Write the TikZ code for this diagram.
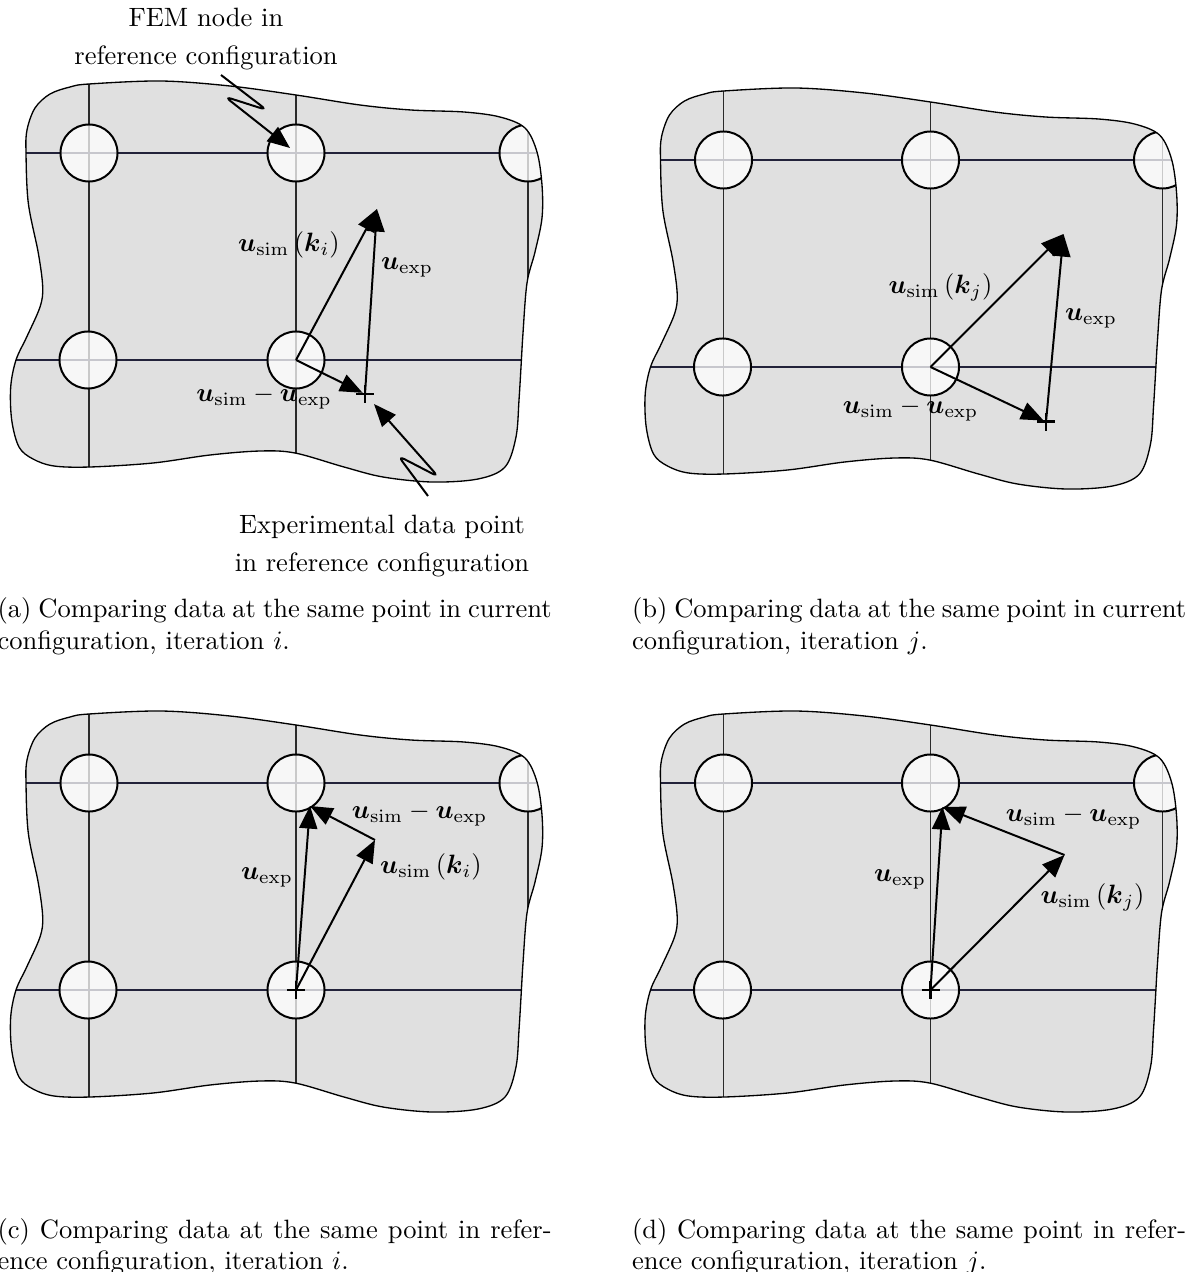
\documentclass[tikz,border=0pt]{standalone}
\usepackage{amsmath}
\usetikzlibrary{arrows.meta}

\definecolor{bodygray}{HTML}{E0E0E0}
\definecolor{gridnavy}{HTML}{22223A}
\definecolor{gridline}{HTML}{2A2A2A}

\newcommand\usim{\boldsymbol{u}_{\mathrm{sim}}}
\newcommand\uexp{\boldsymbol{u}_{\mathrm{exp}}}

% outline of the deformable body (local pixel-like units)
\newcommand\bodyoutline{plot[smooth cycle, tension=0.55] coordinates {
 (26,153) (27,130) (35,108) (50,94) (70,87) (89,84) (161,81) (230,86)
 (296,95) (360,105) (411,110) (464,112) (500,117) (525,128) (537,152)
 (542,185) (542,218) (535,252) (527,283) (523,333) (521,367) (519,400)
 (516,437) (505,467) (478,479) (432,482) (383,477) (344,467) (295,453)
 (260,451) (210,455) (153,463) (90,467) (54,466) (33,459) (19,447)
 (11.7,420) (10.7,387) (16,360) (26.7,337) (40,307) (42.7,287)
 (38.3,253) (28.3,203)}}

% body with mesh lines and FEM nodes; #1 = name prefix
\newcommand\meshbody[1]{%
  \path[fill=bodygray] \bodyoutline;
  \begin{scope}
    \clip \bodyoutline;
    \draw[vline] (89,60) -- (89,500);
    \draw[vline] (296,60) -- (296,500);
    \draw[vline] (528,60) -- (528,500);
    \draw[hline] (0,153) -- (560,153);
    \draw[hline] (0,360) -- (560,360);
    \node[femnode] (#1-11) at (89,153) {};
    \node[femnode] (#1-12) at (296,153) {};
    \node[femnode] (#1-13) at (528,153) {};
    \node[femnode] (#1-21) at (88,360) {};
    \node[femnode] (#1-22) at (296,360) {};
  \end{scope}
  \draw[outline] \bodyoutline;
}

\tikzset{
  outline/.style={draw=black, line width=0.5pt},
  vline/.style={draw=gridline, line width=0.45pt},
  hline/.style={draw=gridnavy, line width=0.65pt},
  femnode/.style={circle, draw=black, line width=0.75pt, fill=white,
    fill opacity=0.75, minimum size=21.5pt, inner sep=0pt},
  vec/.style={line width=0.75pt, -{Triangle[length=8.5pt,width=6.8pt]}},
  bolt/.style={line width=0.75pt, rounded corners=2.5pt,
    -{Triangle[length=8.5pt,width=6.8pt]}},
  plusmark/.style={line width=1pt},
  lbl/.style={inner sep=1pt},
  capline/.style={inner sep=0pt, anchor=west},
}

\begin{document}
\begin{tikzpicture}[x=0.377pt, y=-0.377pt]
\useasboundingbox (0,0) rectangle (1198,1272);

% ---------------- (a) current configuration, iteration i
\begin{scope}
  \meshbody{a}
  \coordinate (a-tip) at (377,209);
  \coordinate (a-x) at (365,394);
  \draw[plusmark] (a-x) ++(-9,0) -- ++(18,0) (a-x) ++(0,-9) -- ++(0,18);
  \draw[vec] (a-22.center) -- (a-tip);
  \draw[vec] (a-x) -- (a-tip);
  \draw[vec, shorten >=1pt] (a-22.center) -- (a-x);
  \node[lbl] (a-lsim) at (289,245) {$\usim\left(\boldsymbol{k}_i\right)$};
  \node[lbl] (a-lexp) at (407,267) {$\uexp$};
  \node[lbl] (a-ldif) at (264,398) {$\usim-\uexp$};
  % annotation: FEM node
  \node[align=center, inner sep=0pt] (femtext) at (206,39)
    {FEM node in\\[2.3pt]reference configuration};
  \coordinate (femtail) at (221,75);
  \coordinate (femtip) at (290,148);
  \draw[bolt] (femtail) -- (266.7,110) -- (225,96.7) -- (femtip);
  % annotation: experimental data point
  \node[align=center, inner sep=0pt] (exptext) at (382,546)
    {Experimental data point\\[2.3pt]in reference configuration};
  \coordinate (exptail) at (428,496);
  \coordinate (exptip) at (374,404);
  \draw[bolt] (exptail) -- (398.3,456) -- (438.3,476.7) -- (exptip);
\end{scope}

% ---------------- (b) current configuration, iteration j
\begin{scope}[shift={(634.5,7)}]
  \meshbody{b}
  \coordinate (b-tip) at (429,227);
  \coordinate (b-x) at (411.5,414.7);
  \draw[plusmark] (b-x) ++(-9,0) -- ++(18,0) (b-x) ++(0,-9) -- ++(0,18);
  \draw[vec] (b-22.center) -- (b-tip);
  \draw[vec] (b-x) -- (b-tip);
  \draw[vec, shorten >=1pt] (b-22.center) -- (b-x);
  \node[lbl] (b-lsim) at (306,280) {$\usim\left(\boldsymbol{k}_j\right)$};
  \node[lbl] (b-lexp) at (456.5,311) {$\uexp$};
  \node[lbl] (b-ldif) at (276,403) {$\usim-\uexp$};
\end{scope}

% ---------------- (c) reference configuration, iteration i
\begin{scope}[shift={(0,630)}]
  \meshbody{c}
  \coordinate (c-p) at (310,176);
  \coordinate (c-q) at (375,210);
  \draw[plusmark] (c-22.center) ++(-9,0) -- ++(18,0) (c-22.center) ++(0,-9) -- ++(0,18);
  \draw[vec] (c-22.center) -- (c-p);
  \draw[vec] (c-22.center) -- (c-q);
  \draw[vec] (c-q) -- (c-p);
  \node[lbl] (c-ldif) at (419.6,185) {$\usim-\uexp$};
  \node[lbl] (c-lsim) at (431,237) {$\usim\left(\boldsymbol{k}_i\right)$};
  \node[lbl] (c-lexp) at (267,247) {$\uexp$};
\end{scope}

% ---------------- (d) reference configuration, iteration j
\begin{scope}[shift={(634.5,630)}]
  \meshbody{d}
  \coordinate (d-p) at (308,177);
  \coordinate (d-q) at (430,225);
  \draw[plusmark] (d-22.center) ++(-9,0) -- ++(18,0) (d-22.center) ++(0,-9) -- ++(0,18);
  \draw[vec] (d-22.center) -- (d-p);
  \draw[vec] (d-22.center) -- (d-q);
  \draw[vec] (d-q) -- (d-p);
  \node[lbl] (d-ldif) at (439,188) {$\usim-\uexp$};
  \node[lbl] (d-lsim) at (458,267) {$\usim\left(\boldsymbol{k}_j\right)$};
  \node[lbl] (d-lexp) at (265.5,249) {$\uexp$};
\end{scope}

% ---------------- captions
\node[capline] (capa1) at (-3,611) {\makebox[208.9pt][s]{(a) Comparing data at the same point in current}};
\node[capline] (capa2) at (-3,643) {configuration, iteration $i$.};
\node[capline] (capb1) at (631.5,611) {\makebox[208.9pt][s]{(b) Comparing data at the same point in current}};
\node[capline] (capb2) at (631.5,643) {configuration, iteration $j$.};
\node[capline] (capc1) at (-3,1232) {\makebox[208.9pt][s]{(c) Comparing data at the same point in refer-}};
\node[capline] (capc2) at (-3,1263) {ence configuration, iteration $i$.};
\node[capline] (capd1) at (631.5,1232) {\makebox[208.9pt][s]{(d) Comparing data at the same point in refer-}};
\node[capline] (capd2) at (631.5,1263) {ence configuration, iteration $j$.};
\end{tikzpicture}
\end{document}
